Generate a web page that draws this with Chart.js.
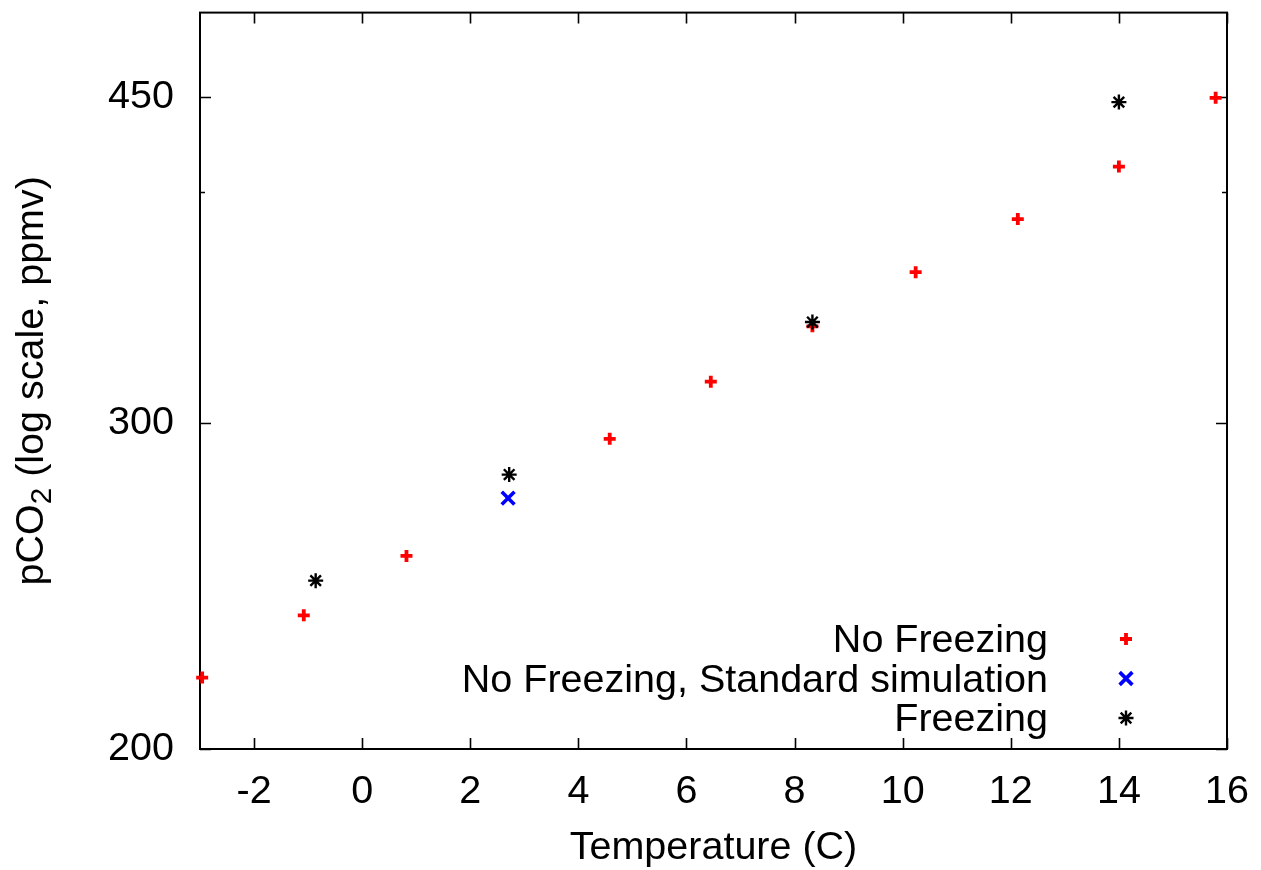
<!DOCTYPE html>
<html>
<head>
<meta charset="utf-8">
<script src="https://cdn.jsdelivr.net/npm/chart.js@4"></script>
<style>
    html, body { margin: 0; padding: 0; background: #fff; }
</style>
</head>
<body>
<canvas id="co2Chart" width="1261" height="870"></canvas>
<script>
// Temperature (C) and pCO2 (ppmv)
const noFreezeTemp = [-2.96, -1.08, 0.82, 4.58, 6.45, 8.33, 10.24, 12.13, 14.0, 15.79];
const noFreezeCO2 = [218.6, 236.2, 254.3, 294.2, 315.9, 338.4, 362.0, 386.7, 412.8, 449.7];
const standardTemp = [2.70];
const standardCO2 = [273.3];
const freezeTemp = [-0.86, 2.72, 8.33, 14.0];
const freezeCO2 = [246.6, 281.4, 340.2, 447.3];

const seriesNames = ['No Freezing', 'No Freezing, Standard simulation', 'Freezing'];
const xTicks = [-2, 0, 2, 4, 6, 8, 10, 12, 14, 16];
const yTicks = [200, 300, 450];
const yMinorTicks = [400];

const FONT = 'Liberation Sans, Arial, Helvetica, sans-serif';
const FONT_SIZE = 39.5;

function toPoints(xs, ys) {
    return xs.map((x, i) => ({ x: x, y: ys[i] }));
}

const markers = [
    { pointStyle: 'cross', radius: 6, borderWidth: 3.8, color: '#ff0000' },
    { pointStyle: 'crossRot', radius: 9, borderWidth: 3.6, color: '#0000ff' },
    { pointStyle: 'star', radius: 7.5, borderWidth: 2.4, color: '#000000' }
];

// no extra room for half tick labels, the frame sits where gnuplot put it
function noPadding(s) {
    s.paddingTop = 0;
    s.paddingBottom = 0;
    s.paddingLeft = 0;
    s.paddingRight = 0;
}

// frame + inward ticks like gnuplot, drawn under the points
const framePlugin = {
    id: 'frame',
    beforeDatasetsDraw(chart) {
        const ctx = chart.ctx;
        const a = chart.chartArea;
        const xs = chart.scales.x;
        const ys = chart.scales.y;
        ctx.save();
        ctx.strokeStyle = '#000';
        ctx.lineWidth = 1.6;
        ctx.beginPath();
        xTicks.forEach(v => {
            const px = Math.round(xs.getPixelForValue(v)) + 0.5;
            ctx.moveTo(px, a.bottom); ctx.lineTo(px, a.bottom - 11);
            ctx.moveTo(px, a.top); ctx.lineTo(px, a.top + 11);
        });
        yTicks.forEach(v => {
            const py = Math.round(ys.getPixelForValue(v)) + 0.5;
            ctx.moveTo(a.left, py); ctx.lineTo(a.left + 11, py);
            ctx.moveTo(a.right, py); ctx.lineTo(a.right - 11, py);
        });
        yMinorTicks.forEach(v => {
            const py = Math.round(ys.getPixelForValue(v)) + 0.5;
            ctx.moveTo(a.left, py); ctx.lineTo(a.left + 5, py);
            ctx.moveTo(a.right, py); ctx.lineTo(a.right - 5, py);
        });
        ctx.stroke();
        ctx.lineWidth = 2;
        ctx.strokeRect(a.left, a.top, a.right - a.left, a.bottom - a.top);
        ctx.restore();
    },
    afterDraw(chart) {
        const ctx = chart.ctx;
        const a = chart.chartArea;
        ctx.save();
        ctx.fillStyle = '#000';

        // y axis title with a real subscript
        const cy = (a.top + a.bottom) / 2;
        const big = FONT_SIZE + 'px ' + FONT;
        const small = (FONT_SIZE * 0.75) + 'px ' + FONT;
        const parts = [['pCO', big, 0], ['2', small, 8], [' (log scale, ppmv)', big, 0]];
        let total = 0;
        parts.forEach(p => { ctx.font = p[1]; total += ctx.measureText(p[0]).width; });
        ctx.translate(43, cy);
        ctx.rotate(-Math.PI / 2);
        ctx.textBaseline = 'alphabetic';
        ctx.textAlign = 'left';
        let tx = -total / 2;
        parts.forEach(p => {
            ctx.font = p[1];
            ctx.fillText(p[0], tx, p[2]);
            tx += ctx.measureText(p[0]).width;
        });
        ctx.setTransform(1, 0, 0, 1, 0, 0);

        // legend inside the plot, text right aligned, marker on the right
        ctx.font = big;
        ctx.textAlign = 'right';
        ctx.textBaseline = 'alphabetic';
        const rows = [652, 691.5, 731];
        seriesNames.forEach((name, i) => {
            ctx.fillText(name, 1048, rows[i]);
            const m = markers[i];
            ctx.strokeStyle = m.color;
            ctx.fillStyle = m.color;
            ctx.lineWidth = m.borderWidth;
            if (Chart.helpers && Chart.helpers.drawPoint) {
                Chart.helpers.drawPoint(ctx, { pointStyle: m.pointStyle, radius: m.radius, borderWidth: m.borderWidth, rotation: 0 }, 1126, rows[i] - 13);
            }
            ctx.fillStyle = '#000';
        });
        ctx.restore();
    }
};

const datasets = [
    toPoints(noFreezeTemp, noFreezeCO2),
    toPoints(standardTemp, standardCO2),
    toPoints(freezeTemp, freezeCO2)
].map((pts, i) => ({
    label: seriesNames[i],
    data: pts,
    showLine: false,
    clip: false,
    order: 3 - i,
    pointStyle: markers[i].pointStyle,
    pointRadius: markers[i].radius,
    pointHoverRadius: markers[i].radius,
    pointBorderWidth: markers[i].borderWidth,
    pointHoverBorderWidth: markers[i].borderWidth,
    borderColor: markers[i].color,
    backgroundColor: markers[i].color
}));

new Chart(document.getElementById('co2Chart'), {
    type: 'scatter',
    data: { datasets: datasets },
    options: {
        responsive: false,
        animation: false,
        devicePixelRatio: 1,
        events: [],
        layout: { padding: { top: 9, right: 34, left: 0, bottom: 0 } },
        plugins: {
            legend: { display: false },
            tooltip: { enabled: false }
        },
        scales: {
            x: {
                type: 'linear',
                min: -3,
                max: 16,
                grid: { display: false },
                border: { display: false },
                afterBuildTicks: s => { s.ticks = xTicks.map(v => ({ value: v })); },
                afterFit: s => { s.height = 121; noPadding(s); },
                ticks: {
                    padding: 11,
                    maxRotation: 0,
                    autoSkip: false,
                    color: '#000',
                    font: { family: FONT, size: FONT_SIZE },
                    callback: v => String(v)
                },
                title: {
                    display: true,
                    text: 'Temperature (C)',
                    color: '#000',
                    font: { family: FONT, size: FONT_SIZE },
                    padding: { top: 0, bottom: -2 }
                }
            },
            y: {
                type: 'logarithmic',
                min: 200,
                max: 500,
                grid: { display: false },
                border: { display: false },
                afterBuildTicks: s => { s.ticks = yTicks.map(v => ({ value: v })); },
                afterFit: s => { s.width = 200; noPadding(s); },
                ticks: {
                    padding: 18,
                    autoSkip: false,
                    color: '#000',
                    font: { family: FONT, size: FONT_SIZE },
                    callback: v => String(v)
                }
            }
        }
    },
    plugins: [framePlugin]
});
</script>
</body>
</html>
